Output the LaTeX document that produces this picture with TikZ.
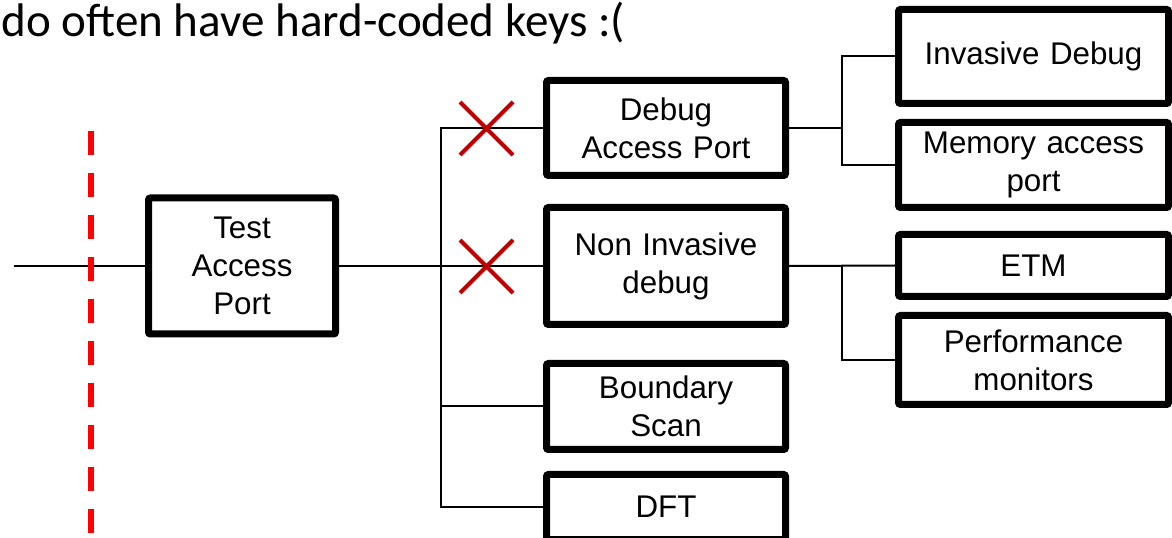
\documentclass[tikz,border=0pt]{standalone}
\usepackage{fontspec}
\setmainfont{Liberation Sans}
\newfontfamily\titlefont{Carlito}
\usepackage{tikz}

\definecolor{crossred}{RGB}{192,0,0}
\definecolor{cutred}{RGB}{255,0,0}

\tikzset{
  blockbox/.style={draw, line width=5.25pt, rounded corners=1.5pt, fill=white,
    align=center, inner sep=0pt, text width=#1,
    font=\fontsize{23.5}{28.5}\selectfont},
  blockbox/.default=170pt,
  wire/.style={line width=1.5pt},
  crossmark/.style={crossred, line width=3pt},
}

\begin{document}
\begin{tikzpicture}[x=0.75pt,y=-0.75pt]
\useasboundingbox (0,0) rectangle (1172,538);
\node[anchor=base west, font=\titlefont\fontsize{35.3}{40}\selectfont] (title) at (-3,37) {do often have hard-coded keys :(};
% boxes
\node[blockbox=130pt, minimum width=140.25pt, minimum height=102pt] (tap) at (242,266) {Test\\Access\\Port};
\node[blockbox, minimum width=179.25pt, minimum height=71.25pt] (dap) at (666,128) {Debug\\Access Port};
\node[blockbox, minimum width=179.25pt, minimum height=87.75pt] (nid) at (666,266) {Non Invasive\\debug};
\node[blockbox, minimum width=179.25pt, minimum height=64.5pt] (bs) at (666,406.5) {Boundary\\Scan};
\node[blockbox, minimum width=179.25pt, minimum height=48.75pt] (dft) at (666,507) {DFT};
\node[blockbox=195pt, minimum width=202.5pt, minimum height=70.5pt] (id) at (1033.5,56.5) {Invasive Debug};
\node[blockbox=195pt, minimum width=202.5pt, minimum height=63.75pt] (map) at (1033.5,165) {Memory access\\port};
\node[blockbox=195pt, minimum width=202.5pt, minimum height=46.5pt] (etm) at (1033.5,265.5) {ETM};
\node[blockbox=195pt, minimum width=202.5pt, minimum height=66.75pt] (pm) at (1033.5,360) {Performance\\monitors};
% connectors
\coordinate (in) at (14,266);
\coordinate (bus) at (441,266);
\coordinate (split1) at (842,128);
\coordinate (split2) at (842,266);
\draw[wire] (in) -- (tap.west);
\draw[wire] (tap.east) -- (nid.west);
\draw[wire] (dap.west) -| (bus) |- (dft.west);
\draw[wire] (bs.west) -- (bs.west -| bus);
\draw[wire] (dap.east) -- (split1);
\draw[wire] (id.west) -| (split1) |- (map.west);
\draw[wire] (nid.east) -- (etm.west);
\draw[wire] (split2) |- (pm.west);
% red cut line
\coordinate (cuttop) at (90.5,131);
\coordinate (cutbot) at (90.5,533);
\draw[cutred, line width=4.5pt, dash pattern=on 18pt off 13.5pt] (cuttop) -- (cutbot);
% crosses
\foreach \cy in {128,266} {
  \draw[crossmark] (460,\cy-26) -- (513,\cy+27) (460,\cy+27) -- (513,\cy-26);
}
\end{tikzpicture}
\end{document}
